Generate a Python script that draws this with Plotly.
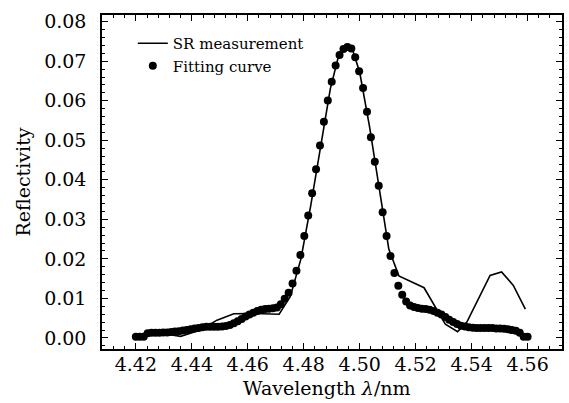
import plotly.graph_objects as go

# SR measurement (solid line)
meas_x = [4.4225, 4.4290, 4.4360, 4.4430, 4.4490, 4.4550, 4.4610, 4.4665, 4.4712, 4.4752,
          4.4790, 4.4825, 4.4860, 4.4895, 4.4925, 4.4950, 4.4975, 4.5000, 4.5035, 4.5070,
          4.5104, 4.5140, 4.5230, 4.5306, 4.5350, 4.5383, 4.5466, 4.5507, 4.5549, 4.5592]
meas_y = [0.0011, 0.0012, 0.0004, 0.0020, 0.0045, 0.0061, 0.0062, 0.0061, 0.0060, 0.0105,
          0.0200, 0.0335, 0.0488, 0.0630, 0.0715, 0.0738, 0.0728, 0.0672, 0.0535, 0.0378,
          0.0225, 0.0157, 0.0127, 0.0035, 0.0016, 0.0040, 0.0158, 0.0167, 0.0133, 0.0073]

# Fitting curve (dots)
fit_x = [4.4200, 4.4214, 4.4228, 4.4242, 4.4256, 4.4270, 4.4284, 4.4298, 4.4312, 4.4326,
         4.4340, 4.4354, 4.4368, 4.4382, 4.4396, 4.4410, 4.4424, 4.4438, 4.4452, 4.4466,
         4.4480, 4.4494, 4.4508, 4.4522, 4.4536, 4.4550, 4.4564, 4.4578, 4.4592, 4.4606,
         4.4620, 4.4634, 4.4648, 4.4662, 4.4676, 4.4690, 4.4704, 4.4718, 4.4732, 4.4746,
         4.4760, 4.4774, 4.4788, 4.4802, 4.4816, 4.4830, 4.4844, 4.4858, 4.4872, 4.4886,
         4.4900, 4.4914, 4.4928, 4.4942, 4.4956, 4.4970, 4.4984, 4.4998, 4.5012, 4.5026,
         4.5040, 4.5054, 4.5068, 4.5082, 4.5096, 4.5110, 4.5124, 4.5138, 4.5152, 4.5166,
         4.5180, 4.5194, 4.5208, 4.5222, 4.5236, 4.5250, 4.5264, 4.5278, 4.5292, 4.5306,
         4.5320, 4.5334, 4.5348, 4.5362, 4.5376, 4.5390, 4.5404, 4.5418, 4.5432, 4.5446,
         4.5460, 4.5474, 4.5488, 4.5502, 4.5516, 4.5530, 4.5544, 4.5558, 4.5572, 4.5586, 4.5600]
fit_y = [0.0003, 0.0003, 0.0003, 0.0012, 0.0013, 0.0013, 0.0013, 0.0014, 0.0014, 0.0015,
         0.0016, 0.0017, 0.0019, 0.0020, 0.0022, 0.0024, 0.0025, 0.0027, 0.0028, 0.0028,
         0.0028, 0.0028, 0.0029, 0.0030, 0.0033, 0.0037, 0.0042, 0.0048, 0.0054, 0.0059,
         0.0064, 0.0068, 0.0071, 0.0073, 0.0074, 0.0075, 0.0077, 0.0085, 0.0099, 0.0114,
         0.0138, 0.0170, 0.0210, 0.0258, 0.0310, 0.0366, 0.0427, 0.0487, 0.0547, 0.0601,
         0.0648, 0.0689, 0.0716, 0.0731, 0.0736, 0.0732, 0.0710, 0.0675, 0.0632, 0.0572,
         0.0508, 0.0446, 0.0385, 0.0318, 0.0258, 0.0207, 0.0164, 0.0132, 0.0109, 0.0092,
         0.0082, 0.0078, 0.0076, 0.0074, 0.0073, 0.0071, 0.0068, 0.0064, 0.0059, 0.0053,
         0.0046, 0.0040, 0.0035, 0.0031, 0.0029, 0.0027, 0.0026, 0.0025, 0.0025, 0.0025,
         0.0025, 0.0025, 0.0024, 0.0024, 0.0023, 0.0022, 0.0020, 0.0018, 0.0013, 0.0003, 0.0003]

x_ticks = [4.42, 4.44, 4.46, 4.48, 4.50, 4.52, 4.54, 4.56]
x_tick_labels = ["4.42", "4.44", "4.46", "4.48", "4.50", "4.52", "4.54", "4.56"]
y_ticks = [0.00, 0.01, 0.02, 0.03, 0.04, 0.05, 0.06, 0.07, 0.08]
y_tick_labels = ["0.00", "0.01", "0.02", "0.03", "0.04", "0.05", "0.06", "0.07", "0.08"]

FONT = "DejaVu Serif"

fig = go.Figure()
fig.add_trace(go.Scatter(x=meas_x, y=meas_y, mode="lines", name="SR measurement",
                         line=dict(color="black", width=1.6)))
fig.add_trace(go.Scatter(x=fit_x, y=fit_y, mode="markers", name="Fitting curve",
                         marker=dict(color="black", size=8, line=dict(width=0))))

axis_common = dict(showline=True, linecolor="black", linewidth=1.5, mirror="allticks",
                   ticks="inside", ticklen=6, tickwidth=1.2, tickcolor="black",
                   showgrid=False, zeroline=False,
                   tickfont=dict(family=FONT, size=19, color="black"))

fig.update_xaxes(range=[4.4079, 4.5723], tickvals=x_ticks, ticktext=x_tick_labels,
                 minor=dict(dtick=0.004, tick0=4.42, ticks="inside", ticklen=3,
                            tickwidth=1, tickcolor="black"),
                 ticklabelstandoff=-3,
                 **axis_common)
fig.update_yaxes(range=[-0.0028, 0.0817], tickvals=y_ticks, ticktext=y_tick_labels,
                 minor=dict(dtick=0.002, tick0=0, ticks="inside", ticklen=3,
                            tickwidth=1, tickcolor="black"),
                 title=dict(text="Reflectivity", font=dict(family=FONT, size=19, color="black"),
                            standoff=8),
                 ticklabelstandoff=10,
                 **axis_common)

fig.update_layout(
    width=569, height=403,
    margin=dict(l=102, r=5, t=15, b=54),
    plot_bgcolor="white", paper_bgcolor="white",
    font=dict(family=FONT, color="black"),
    legend=dict(x=0.067, y=0.964, xanchor="left", yanchor="top",
                bgcolor="rgba(0,0,0,0)", borderwidth=0,
                font=dict(family=FONT, size=15, color="black"),
                tracegroupgap=0),
    showlegend=True,
    annotations=[dict(text="Wavelength <i>λ</i>/nm", xref="paper", yref="paper",
                      x=0.489, y=-0.118, xanchor="center", yanchor="middle",
                      showarrow=False, font=dict(family=FONT, size=19, color="black"))],
)

fig.write_html("out.html", config={"displayModeBar": False},
               post_script="document.body.style.margin='0px';document.body.style.overflow='hidden';")
